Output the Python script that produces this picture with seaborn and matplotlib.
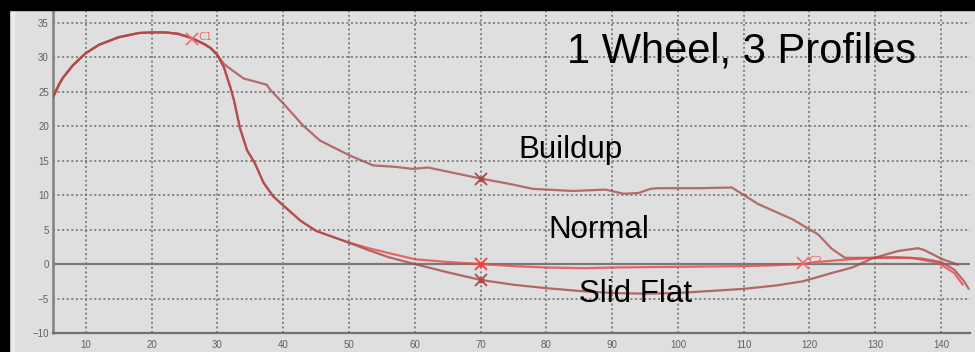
import numpy as np
import pandas as pd
import matplotlib
matplotlib.use("Agg")
import matplotlib.pyplot as plt
import seaborn as sns
from matplotlib.patches import Rectangle

# ---- data ----
common_x = [5, 6, 6.5, 8, 10, 12, 15, 18, 20, 22, 24, 26, 28, 29, 30]
common_y = [24.2, 26.2, 27.0, 28.8, 30.6, 31.8, 32.9, 33.5, 33.6, 33.6, 33.4, 32.8, 31.9, 31.3, 30.3]

drop_x = [31, 32, 32.5, 33.4, 34.5, 35.7, 37.0, 38.5, 40, 42.6, 45, 50]
drop_y = [28.5, 25.5, 23.8, 19.8, 16.5, 14.6, 11.8, 9.8, 8.5, 6.3, 4.8, 3.1]

normal_x = [53, 56, 60, 65, 70, 75, 80, 86, 90, 100, 110, 114, 119, 121, 125, 129.5, 135.5, 139.5, 142, 143.3]
normal_y = [2.3, 1.6, 0.7, 0.3, 0.0, -0.3, -0.5, -0.6, -0.5, -0.4, -0.3, -0.2, 0.0, 0.3, 0.6, 0.9, 0.9, 0.2, -1.3, -3.0]

slid_x = [53, 56, 60, 65, 70, 75, 80, 85, 90, 95, 100, 105, 110, 115, 119, 123.4, 126.5, 129.5, 133.5, 136.5, 137.5, 140.2, 142.6]
slid_y = [2.0, 1.0, 0.0, -1.2, -2.3, -3.0, -3.5, -3.9, -4.2, -4.3, -4.2, -3.9, -3.6, -3.1, -2.5, -1.3, -0.5, 0.8, 1.9, 2.3, 2.0, 0.7, -0.1]

build_x = [31, 32.4, 34, 36, 37.5, 38, 40, 43, 45.6, 50.2, 53.7, 57, 59.7, 62, 66, 70, 74, 78, 84, 89,
           91.7, 94, 95.8, 97, 103, 108.2, 110.2, 112.2, 117.4, 120.4, 121.3, 123.4, 125.4, 129.5, 133,
           137, 140, 142, 143.5, 144.2]
build_y = [29.0, 28.0, 26.9, 26.4, 26.0, 25.3, 23.3, 20.1, 17.9, 15.7, 14.3, 14.1, 13.8, 14.0, 13.2, 12.4,
           11.7, 10.9, 10.6, 10.8, 10.2, 10.3, 10.9, 11.0, 11.0, 11.1, 9.9, 8.7, 6.5, 4.8, 4.3, 2.2, 0.9,
           0.9, 1.0, 0.8, 0.3, -0.8, -2.5, -3.6]

marker_x = [70, 70, 70]
marker_y = [12.4, 0.0, -2.3]
cursor_x = [26.2, 119.0]
cursor_y = [32.6, 0.1]
cursor_labels = ["C1", "C2"]

labels = ["Buildup", "Normal", "Slid Flat"]
title_text = "1 Wheel, 3 Profiles"
xticks = list(range(10, 150, 10))
yticks = list(range(-10, 40, 5))

# ---- build frames ----
def series(name, tail_x, tail_y, mid=True):
    xs = common_x + (drop_x if mid else []) + tail_x
    ys = common_y + (drop_y if mid else []) + tail_y
    return pd.DataFrame({"x": xs, "y": ys, "profile": name})

df = pd.concat([
    series("Buildup", build_x, build_y, mid=False),
    series("Normal", normal_x, normal_y),
    series("Slid Flat", slid_x, slid_y),
], ignore_index=True)

sns.set_theme(style="white")
plt.rcParams['font.family'] = ['Liberation Sans', 'DejaVu Sans']

BG = "#dfdfdf"
fig = plt.figure(figsize=(9.75, 3.52), dpi=100, facecolor=BG)
ax = fig.add_axes([53/975, 19/352, 917/975, 322/352])
ax.set_facecolor(BG)

ax.set_xlim(5, 144.4)
ax.set_ylim(-10, 36.7)

# grid
ax.set_xticks(xticks)
ax.set_yticks(yticks)
ax.grid(True, color="#6a6a6a", linestyle=(0, (1.3, 1.7)), linewidth=1.1)
ax.axhline(0, color="#7a7a7a", linewidth=1.6, zorder=2)

palette = {"Buildup": "#a85050", "Normal": "#e84848", "Slid Flat": "#a84848"}
sns.lineplot(data=df, x="x", y="y", hue="profile", palette=palette, estimator=None,
             sort=False, linewidth=1.6, alpha=0.8, legend=False, ax=ax, zorder=3)

# markers at x=70
mk_colors = ["#b04848", "#ff3a3a", "#b04848"]
for mx, my, mc in zip(marker_x, marker_y, mk_colors):
    ax.plot(mx, my, marker="x", markersize=8, mew=1.3, color=mc, zorder=4)
    ax.plot(mx, my, marker="s", markersize=3.5, color=mc, zorder=4)

# cursors
for cx, cy, cl in zip(cursor_x, cursor_y, cursor_labels):
    ax.plot(cx, cy, marker="x", markersize=9, mew=1.2, color="#f06a6a", zorder=5)
    ax.text(cx + 0.9, cy + 0.3, cl, fontsize=7.5, color="#f06a6a", va="center", ha="left",
            family=["DejaVu Sans"], zorder=5)

# text labels
ax.text(109.6, 30.8, title_text, fontsize=30, color="black", ha="center", va="center")
ax.text(83.6, 16.5, labels[0], fontsize=22.5, color="black", ha="center", va="center")
ax.text(88.0, 5.0, labels[1], fontsize=22.5, color="black", ha="center", va="center")
ax.text(93.5, -4.3, labels[2], fontsize=22.5, color="black", ha="center", va="center")

# axes styling
for s in ["top", "right"]:
    ax.spines[s].set_visible(False)
ax.spines["left"].set_color("#808080")
ax.spines["left"].set_linewidth(1.8)
ax.spines["bottom"].set_color("#707070")
ax.spines["bottom"].set_linewidth(1.6)
ax.tick_params(axis="both", labelsize=7, colors="#606060", length=3, width=1,
               direction="in", pad=3)
ax.tick_params(axis="x", pad=5)
ax.set_xlabel("")
ax.set_ylabel("")

# screenshot frame
fig.add_artist(Rectangle((0, 0), 9/975, 1, transform=fig.transFigure, color="black", zorder=10))
fig.add_artist(Rectangle((0, 1 - 10/352), 1, 10/352, transform=fig.transFigure, color="black", zorder=10))
fig.add_artist(Rectangle((9/975, 0), 5/975, 1 - 10/352, transform=fig.transFigure, color="#ebebeb", zorder=9))

fig.savefig("out.png", dpi=100, facecolor=BG)
